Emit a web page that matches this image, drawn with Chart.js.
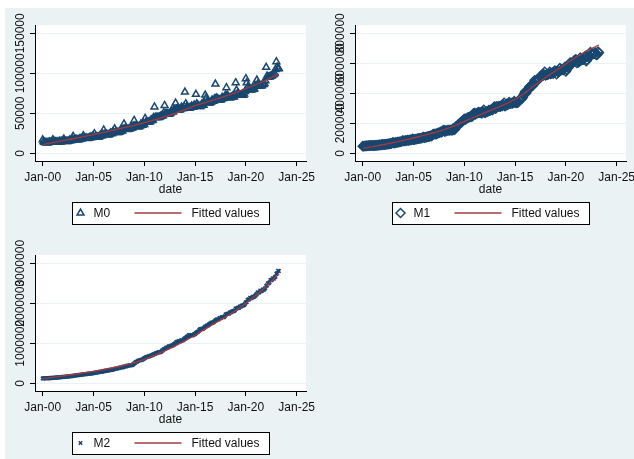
<!DOCTYPE html>
<html>
<head>
<meta charset="utf-8">
<script src="https://cdn.jsdelivr.net/npm/chart.js@4.4.1/dist/chart.umd.min.js"></script>
<style>
  html, body { margin: 0; padding: 0; background: #fff; width: 634px; height: 459px; overflow: hidden; position: relative; }
  #sheet { position: absolute; left: 5px; top: 8px; right: 0; bottom: 0; background: #EAF2F3; }
  .panel { position: absolute; width: 320px; height: 230px; }
  .panel canvas { display: block; }
</style>
</head>
<body>
<div id="sheet"></div>
<div class="panel" style="left:0;top:0"><canvas id="c0" width="320" height="230"></canvas></div>
<div class="panel" style="left:320px;top:0"><canvas id="c1" width="320" height="230"></canvas></div>
<div class="panel" style="left:0;top:230px"><canvas id="c2" width="320" height="230"></canvas></div>
<script>
// Monthly money supply, 亿元, Jan 2000 .. Apr 2023 (one row per year)
const START_YEAR = 2000;

const M0 = [
  16900,14900,13700,13600,13200,13300,13300,13400,14200,13700,13800,14650,
  17000,14800,14400,14500,14200,14100,14000,14200,15100,14500,14500,15690,
  15200,17800,15000,15200,14900,14900,15000,15400,16500,15900,15900,17280,
  21200,17400,17000,17200,17400,17000,16900,17400,18400,17900,18000,19750,
  22100,19300,18900,19000,18700,18600,18700,19100,20400,19800,19800,21470,
  20000,24500,20700,20900,20400,20400,20500,20900,22500,21900,21900,24030,
  29300,23600,23400,23700,23200,23100,23300,23800,25500,24900,24900,27070,
  25900,30600,26400,26700,26000,25900,26300,26800,29000,27900,27800,30330,
  36700,30800,30400,30100,29700,30200,30500,30800,32200,31500,31900,34220,
  41100,34500,33700,33600,33300,33200,33600,34000,36800,35200,35500,38250,
  36000,43600,39100,39400,38700,38900,39400,39900,42000,41000,41700,44630,
  58000,45000,44500,45300,44700,44800,45400,46000,47100,46700,47300,50750,
  59800,49600,49600,49900,48800,49100,49600,50400,53300,51700,52000,54660,
  54300,62900,55400,55500,54200,54100,54600,55500,57800,56000,56000,58570,
  76500,62000,58300,58100,56300,56900,56800,57700,59000,57800,57800,60260,
  58900,73700,61900,60500,59100,58600,58600,59400,61800,60000,60100,63220,
  72800,69300,64500,63800,62900,62900,63600,64100,66800,65100,65500,68300,
  86600,69100,68600,67700,66600,66900,66600,67700,70000,68600,68700,70650,
  72600,82000,72700,71300,69600,69600,69700,70000,71300,70300,70700,73210,
  88300,79000,74900,74200,72800,72600,72700,73200,74100,72700,74000,77190,
  93300,88200,83000,80900,79500,79500,79500,79500,82400,80200,80600,84310,
  84200,91600,86500,85200,83800,84300,84300,84900,86900,86100,87400,90830,
  107500,96500,95100,95400,95600,96000,96500,97200,98700,98400,99900,104700,
  114600,108000,105600,105900
];

const M1 = [
  47500,47000,48500,49000,49300,50500,50000,50800,51700,51500,52000,53150,
  52000,51200,52500,52800,53000,54200,53600,54500,55800,55400,56500,59870,
  58200,57800,59500,59800,60300,61800,61300,62800,64700,64500,65600,70880,
  71500,67800,70700,71000,72100,74600,73900,75500,77000,77100,78800,84120,
  83200,81700,84200,84400,85200,87800,86500,87800,90000,89300,90400,95970,
  91000,92800,93900,94000,95200,98400,97700,99000,100600,100300,102100,107280,
  107600,104600,107100,107000,109200,112300,111300,113100,116800,114700,118500,126030,
  128000,128300,127900,129500,131600,135900,135000,138400,142600,141500,144400,152560,
  154900,144700,150900,149300,153400,154800,153100,154500,155700,153900,154800,166220,
  155000,160700,176500,178200,182200,193100,195900,201800,206500,207500,214700,220000,
  229600,224300,229400,233300,236500,240600,240600,244300,243800,244300,253200,266620,
  268000,258800,266300,266800,269300,274700,270200,271800,267200,267200,276000,289850,
  270000,270600,277900,277000,278800,287500,283900,286800,293800,287400,293400,308660,
  311200,297100,310900,309600,311600,313500,310900,312600,318500,315300,323400,337290,
  314900,316600,327700,324100,327100,341500,331300,332000,335000,332000,336900,348060,
  338000,337200,337200,337300,343200,356100,360100,369100,364400,371500,387400,400950,
  411600,400400,411600,421000,430800,443600,446400,453100,454300,451200,469000,486560,
  479600,476500,488100,490600,498000,510200,505100,510900,524000,517900,527400,543790,
  519600,523500,523500,525100,532200,544000,529000,532700,538600,531200,537200,551690,
  545600,527200,547600,540600,545100,567700,553000,557100,557100,555100,563000,576010,
  545500,556500,575100,570200,581100,604300,591200,601300,602300,609200,617500,625580,
  625600,602300,616100,605400,616800,637500,620400,624600,624600,626100,637500,647440,
  613900,621600,645100,636900,645000,674400,661800,664600,664500,662100,667000,671670,
  655200,657900,678100,669800
];

const M2 = [
  122000,122600,125400,125600,126100,126600,127400,128500,130500,130300,131200,134610,
  136200,137900,140500,140700,141500,147800,146900,148500,151300,150500,152900,158300,
  159600,161100,164100,164600,166100,170900,170900,173000,176000,176600,178800,185010,
  190500,190100,194500,196100,199500,204900,205200,208600,210700,210500,213800,221220,
  224500,224200,228000,229400,231500,238400,236800,237800,243800,241900,245400,254110,
  257700,259400,264600,266100,269600,275800,276970,281300,287400,286000,289900,298760,
  303600,304500,310500,313700,316700,323100,324000,327900,331900,332700,337500,345600,
  351500,358700,364100,367300,369700,377800,383900,387200,393100,394200,397900,403440,
  417800,421000,423100,429300,436200,443100,446100,448800,452900,453100,458600,475170,
  496100,506700,530600,540500,548300,568900,570200,576700,585400,586600,594600,610220,
  625600,636100,649900,656200,663400,673900,674100,687500,696500,699800,710300,725850,
  733900,736100,758100,757400,763400,780800,772900,780900,787400,816800,825500,851590,
  855900,867200,895600,889600,900000,924900,925400,924600,943700,944000,955300,974150,
  992100,998600,1035900,1032600,1042200,1054400,1052200,1061300,1077400,1070200,1079300,1106520,
  1123500,1131800,1160700,1168800,1182300,1209600,1194100,1197900,1202100,1199200,1208200,1228370,
  1235700,1253400,1275300,1280100,1301000,1333400,1353200,1356900,1359800,1360200,1375000,1392280,
  1416300,1424600,1446200,1444300,1461700,1490500,1491600,1510400,1516400,1519500,1530400,1550070,
  1575900,1581600,1599600,1596300,1601400,1631300,1627800,1641300,1655700,1653400,1653400,1676770,
  1720800,1724900,1739300,1737700,1741600,1770200,1772100,1781100,1801700,1799700,1809300,1826740,
  1865900,1867400,1889400,1884700,1891500,1921400,1917500,1931000,1952300,1946300,1960300,1986490,
  2023100,2030800,2080900,2093500,2100200,2134900,2125500,2136800,2164100,2149700,2172000,2186800,
  2213000,2236000,2276500,2262100,2275500,2317800,2302500,2312300,2342800,2336200,2356500,2382900,
  2431000,2449400,2497700,2499700,2527000,2581500,2578100,2595100,2626700,2612900,2647000,2664320,
  2738100,2755300,2814600,2808500
];

// Fitted values, sampled at each January and at the last month
const FIT_X = [2000,2001,2002,2003,2004,2005,2006,2007,2008,2009,2010,2011,
               2012,2013,2014,2015,2016,2017,2018,2019,2020,2021,2022,2023.25];
const FIT_M0 = [11000,13300,15800,18200,20800,23500,26200,29000,32000,35000,38300,41800,
                45500,49500,54500,59500,63500,67500,71500,76000,81000,86000,91500,99000];
const FIT_M1 = [33000,44000,57000,71000,86000,102000,119000,137000,157000,183000,213000,242000,
                270000,298000,326000,360000,404000,457000,505000,550000,595000,640000,682000,722000];
const FIT_M2 = [115000,150000,185000,220000,260000,300000,345000,395000,450000,510000,600000,700000,
                810000,930000,1060000,1200000,1360000,1510000,1660000,1820000,2000000,2200000,2420000,2740000];

// Axis ticks
const X_TICKS = [2000, 2005, 2010, 2015, 2020, 2025];
const Y_TICKS_M0 = [0, 50000, 100000, 150000];
const Y_TICKS_M1 = [0, 200000, 400000, 600000, 800000];
const Y_TICKS_M2 = [0, 1000000, 2000000, 3000000];

const NAVY = '#1A476F';
const MAROON = '#A33A42';
const BG = '#EAF2F3';
const FONT = '"Liberation Sans", Arial, Helvetica, sans-serif';

function monthPoints(values) {
  return values.map((v, i) => ({ x: START_YEAR + i / 12, y: v }));
}
function fitPoints(values) {
  return values.map((v, i) => ({ x: FIT_X[i], y: v }));
}

// Draws the white plot region, vertical y tick labels and the boxed legend
const stataLook = {
  id: 'stataLook',
  beforeDraw(chart) {
    const { ctx, chartArea: a } = chart;
    ctx.save();
    ctx.fillStyle = '#fff';
    ctx.fillRect(a.left, a.top, a.right - a.left, a.bottom - a.top);
    ctx.restore();
  },
  afterDraw(chart) {
    const { ctx, chartArea: a } = chart;
    const ys = chart.scales.y;
    ctx.save();
    ctx.font = '12px ' + FONT;
    ctx.fillStyle = '#111';
    ctx.textAlign = 'center';
    ctx.textBaseline = 'middle';
    ys.ticks.forEach(t => {
      const py = ys.getPixelForValue(t.value);
      ctx.save();
      ctx.translate(ys.right - 14, py);
      ctx.rotate(-Math.PI / 2);
      ctx.fillText(String(t.value), 0, 0);
      ctx.restore();
    });

    // legend box
    const bw = 197, bh = 22;
    const bx = Math.round((a.left + a.right) / 2 - bw / 2) + 0.5;
    const by = 202.5;
    ctx.fillStyle = '#fff';
    ctx.fillRect(bx, by, bw, bh);
    ctx.strokeStyle = '#000';
    ctx.lineWidth = 1;
    ctx.strokeRect(bx, by, bw, bh);

    const cy = by + bh / 2 - 0.5;
    const ds0 = chart.data.datasets[0];
    const ds1 = chart.data.datasets[1];
    ctx.save();
    ctx.strokeStyle = ds0.borderColor;
    ctx.fillStyle = 'rgba(0,0,0,0)';
    ctx.lineWidth = ds0.borderWidth;
    Chart.helpers.drawPoint(ctx, {
      pointStyle: ds0.pointStyle, radius: ds0.pointRadius,
      borderWidth: ds0.borderWidth, rotation: 0
    }, bx + 8, cy);
    ctx.restore();

    ctx.save();
    ctx.strokeStyle = ds1.borderColor;
    ctx.lineWidth = 1.5;
    ctx.beginPath();
    ctx.moveTo(bx + 62, cy);
    ctx.lineTo(bx + 109, cy);
    ctx.stroke();
    ctx.restore();

    ctx.fillStyle = '#111';
    ctx.textAlign = 'left';
    ctx.fillText(ds0.label, bx + 21, cy + 0.5);
    ctx.fillText(ds1.label, bx + 119, cy + 0.5);
    ctx.restore();
  }
};

function makePanel(canvasId, label, values, fitted, yMin, yMax, yTicks, pointStyle, radius, weight) {
  return new Chart(document.getElementById(canvasId), {
    type: 'scatter',
    data: {
      datasets: [
        {
          label: label,
          data: monthPoints(values),
          pointStyle: pointStyle,
          pointRadius: radius,
          borderColor: NAVY,
          backgroundColor: 'rgba(0,0,0,0)',
          borderWidth: weight,
          showLine: false,
          order: 1
        },
        {
          type: 'line',
          label: 'Fitted values',
          data: fitPoints(fitted),
          borderColor: MAROON,
          borderWidth: 1.3,
          pointRadius: 0,
          fill: false,
          tension: 0,
          order: 0
        }
      ]
    },
    options: {
      responsive: false,
      animation: false,
      events: [],
      layout: { padding: { left: 5, top: 25, right: 14, bottom: 0 } },
      plugins: { legend: { display: false }, tooltip: { enabled: false } },
      scales: {
        x: {
          type: 'linear',
          min: 1999.24,
          max: 2025.92,
          afterBuildTicks: s => { s.ticks = X_TICKS.map(v => ({ value: v })); },
          afterFit: s => { s.height = 69; },
          grid: { drawOnChartArea: false, drawTicks: true, tickLength: 5, tickColor: '#000' },
          border: { color: '#000', width: 1 },
          ticks: {
            autoSkip: false, maxRotation: 0, minRotation: 0, padding: 4,
            color: '#111', font: { family: FONT, size: 12 },
            callback: v => 'Jan-' + String(Math.round(v) % 100).padStart(2, '0')
          },
          title: {
            display: true, text: 'date', color: '#111',
            font: { family: FONT, size: 12 },
            padding: { top: 0, bottom: 33 }
          }
        },
        y: {
          type: 'linear',
          min: yMin,
          max: yMax,
          afterBuildTicks: s => { s.ticks = yTicks.map(v => ({ value: v })); },
          afterFit: s => { s.width = 30; },
          grid: { drawOnChartArea: true, color: BG, lineWidth: 1, drawTicks: true, tickLength: 5, tickColor: '#000' },
          border: { color: '#000', width: 1 },
          ticks: { display: false }
        }
      }
    },
    plugins: [stataLook]
  });
}

makePanel('c0', 'M0', M0, FIT_M0, -9600, 160400, Y_TICKS_M0, 'triangle', 4, 1.5);
makePanel('c1', 'M1', M1, FIT_M1, -51300, 855300, Y_TICKS_M1, 'rectRot', 4.5, 1.5);
makePanel('c2', 'M2', M2, FIT_M2, -192500, 3207500, Y_TICKS_M2, 'crossRot', 2.5, 1.5);
</script>
</body>
</html>
